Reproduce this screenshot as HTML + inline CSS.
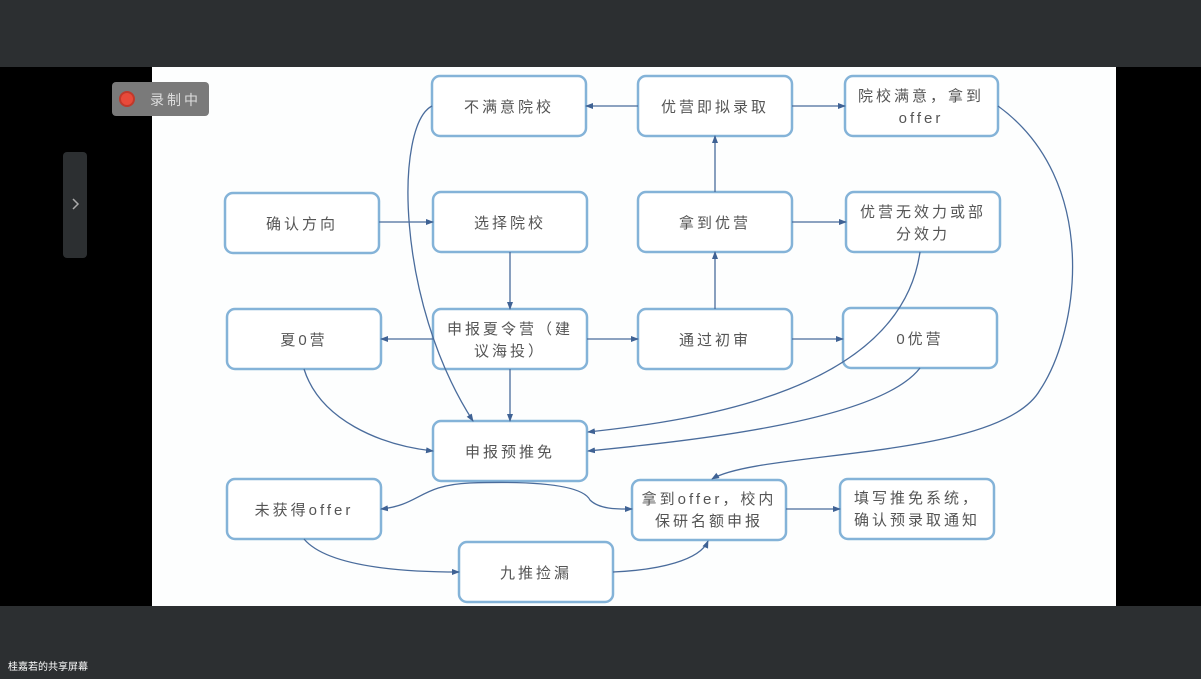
<!DOCTYPE html>
<html><head><meta charset="utf-8"><style>
html,body{margin:0;padding:0;width:1201px;height:679px;overflow:hidden;background:#000;}
svg{display:block}
text{font-family:"Liberation Sans","Noto Sans CJK SC",sans-serif;fill:#555;font-size:15px;letter-spacing:3px}
</style></head><body>
<svg width="1201" height="679" viewBox="0 0 1201 679" xmlns="http://www.w3.org/2000/svg">
<defs><marker id="a" markerWidth="8" markerHeight="8" refX="7" refY="4" orient="auto" markerUnits="userSpaceOnUse"><path d="M0,1 L8,4 L0,7 z" fill="#3f6294"/></marker></defs>
<rect x="0" y="0" width="1201" height="67" fill="#2c2f31"/>
<rect x="0" y="606" width="1201" height="73" fill="#2c2f31"/>
<rect x="152" y="67" width="964" height="539" fill="#fdfefe"/>
<rect x="63" y="152" width="24" height="106" rx="4" fill="#2c2f31"/>
<path d="M73,199 l5,5 l-5,5" stroke="#aaa" stroke-width="1.5" fill="none"/>
<rect x="112" y="82" width="97" height="34" rx="4" fill="#7a7a7a"/>
<circle cx="127" cy="99" r="7" fill="#e84a3a" stroke="#c0392b" stroke-width="2"/>
<text x="150" y="105" style="fill:#ddd;font-size:14px">录制中</text>
<text x="8" y="670" style="fill:#fff;font-size:10px;letter-spacing:0">桂嘉若的共享屏幕</text>
<g fill="#fff" stroke="#84b3d8" stroke-width="2.5">
<rect x="432" y="76" width="154" height="60" rx="8"/>
<rect x="638" y="76" width="154" height="60" rx="8"/>
<rect x="845" y="76" width="153" height="60" rx="8"/>
<rect x="225" y="193" width="154" height="60" rx="8"/>
<rect x="433" y="192" width="154" height="60" rx="8"/>
<rect x="638" y="192" width="154" height="60" rx="8"/>
<rect x="846" y="192" width="154" height="60" rx="8"/>
<rect x="227" y="309" width="154" height="60" rx="8"/>
<rect x="433" y="309" width="154" height="60" rx="8"/>
<rect x="638" y="309" width="154" height="60" rx="8"/>
<rect x="843" y="308" width="154" height="60" rx="8"/>
<rect x="433" y="421" width="154" height="60" rx="8"/>
<rect x="227" y="479" width="154" height="60" rx="8"/>
<rect x="632" y="480" width="154" height="60" rx="8"/>
<rect x="840" y="479" width="154" height="60" rx="8"/>
<rect x="459" y="542" width="154" height="60" rx="8"/>
</g>
<g fill="none" stroke="#4a6c9c" stroke-width="1.3" marker-end="url(#a)">
<path d="M379,222 H433"/>
<path d="M510,252 V309"/>
<path d="M433,339 H381"/>
<path d="M587,339 H638"/>
<path d="M510,369 V421"/>
<path d="M715,309 V252"/>
<path d="M792,339 H843"/>
<path d="M715,192 V136"/>
<path d="M792,222 H846"/>
<path d="M638,106 H586"/>
<path d="M792,106 H845"/>
<path d="M432,106 C395,125 395,300 473,421"/>
<path d="M920,252 C900,390 700,420 588,432"/>
<path d="M920,368 C880,420 700,440 588,451"/>
<path d="M304,369 C320,420 380,445 433,451"/>
<path d="M998,106 C1100,180 1080,330 1040,390 C1000,460 760,450 712,479"/>
<path d="M470,483 C420,485 420,505 381,509"/>
<path d="M470,483 C560,480 585,490 590,500 C600,510 620,509 632,509"/>
<path d="M304,539 C330,570 420,572 459,572"/>
<path d="M613,572 C660,570 700,560 708,541"/>
<path d="M786,509 H840"/>
</g>
<g text-anchor="middle">
<text x="509" y="112">不满意院校</text>
<text x="715" y="112">优营即拟录取</text>
<text x="921" y="101">院校满意，拿到</text>
<text x="921" y="123">offer</text>
<text x="302" y="229">确认方向</text>
<text x="510" y="228">选择院校</text>
<text x="715" y="228">拿到优营</text>
<text x="923" y="217">优营无效力或部</text>
<text x="923" y="239">分效力</text>
<text x="304" y="345">夏0营</text>
<text x="510" y="334">申报夏令营（建</text>
<text x="510" y="356">议海投）</text>
<text x="715" y="345">通过初审</text>
<text x="920" y="344">0优营</text>
<text x="510" y="457">申报预推免</text>
<text x="304" y="515">未获得offer</text>
<text x="709" y="504">拿到offer，校内</text>
<text x="709" y="526">保研名额申报</text>
<text x="917" y="503">填写推免系统，</text>
<text x="917" y="525">确认预录取通知</text>
<text x="536" y="578">九推捡漏</text>
</g>
</svg>
</body></html>
